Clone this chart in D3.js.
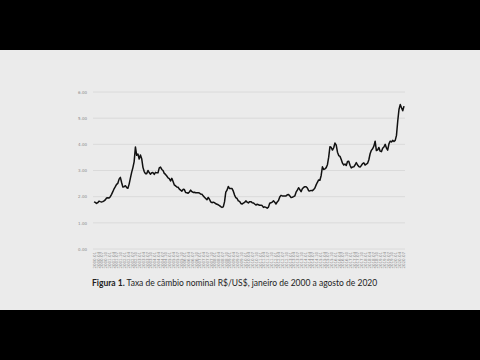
<!DOCTYPE html>
<html>
<head>
<meta charset="utf-8">
<script src="https://cdn.jsdelivr.net/npm/d3@7"></script>
<style>
  body { margin: 0; background: #000; }
  svg { display: block; }
</style>
</head>
<body>
<svg id="chart" width="480" height="360"></svg>
<script>
// taxa de cambio mensal R$/US$, jan/2000 a ago/2020
var startYear = 2000;
var rates = [
  1.80,1.78,1.74,1.77,1.83,1.81,1.80,1.81,1.84,1.88,1.95,1.96,
  1.95,2.00,2.09,2.19,2.30,2.38,2.47,2.51,2.67,2.74,2.54,2.37,
  2.38,2.42,2.35,2.32,2.48,2.71,2.93,3.11,3.34,3.90,3.58,3.63,
  3.44,3.59,3.45,3.12,2.96,2.88,2.88,3.00,2.92,2.86,2.91,2.92,
  2.85,2.93,2.91,2.91,3.10,3.13,3.04,3.00,2.89,2.85,2.79,2.72,
  2.69,2.60,2.70,2.58,2.45,2.41,2.37,2.36,2.29,2.25,2.21,2.28,
  2.27,2.16,2.15,2.13,2.18,2.25,2.19,2.16,2.17,2.15,2.15,2.15,
  2.14,2.10,2.09,2.03,1.98,1.93,1.88,1.97,1.90,1.80,1.77,1.79,
  1.77,1.73,1.71,1.69,1.66,1.62,1.59,1.61,1.80,2.17,2.25,2.39,
  2.31,2.31,2.31,2.21,2.06,1.96,1.93,1.84,1.82,1.74,1.72,1.75,
  1.78,1.84,1.79,1.76,1.81,1.81,1.77,1.76,1.72,1.68,1.71,1.69,
  1.67,1.67,1.66,1.59,1.61,1.59,1.56,1.60,1.75,1.77,1.79,1.84,
  1.79,1.72,1.80,1.85,1.99,2.05,2.03,2.03,2.03,2.03,2.07,2.08,
  2.03,1.97,1.98,2.00,2.03,2.17,2.25,2.34,2.27,2.19,2.30,2.35,
  2.38,2.38,2.33,2.23,2.22,2.24,2.23,2.27,2.33,2.45,2.55,2.64,
  2.63,2.81,3.14,3.04,3.06,3.11,3.22,3.51,3.91,3.88,3.78,3.87,
  4.05,3.97,3.70,3.57,3.54,3.42,3.28,3.21,3.25,3.19,3.34,3.35,
  3.20,3.10,3.13,3.14,3.21,3.30,3.21,3.15,3.13,3.19,3.26,3.29,
  3.21,3.24,3.28,3.41,3.64,3.77,3.83,3.93,4.12,3.76,3.79,3.88,
  3.74,3.72,3.85,3.90,4.00,3.86,3.78,4.02,4.12,4.09,4.15,4.11,
  4.15,4.34,4.88,5.33,5.52,5.40,5.28,5.46
];
var yTicks = [0, 1, 2, 3, 4, 5, 6];
var labelStep = 3; // um rotulo a cada trimestre

var months = rates.map(function (d, i) {
  var yr = startYear + Math.floor(i / 12);
  var m = (i % 12) + 1;
  return yr + "." + (m < 10 ? "0" + m : m);
});

var svg = d3.select("#chart");

// fundo cinza entre as faixas pretas
svg.append("rect")
  .attr("x", 0).attr("y", 50)
  .attr("width", 480).attr("height", 260)
  .attr("fill", "#ebebeb");

var plotLeft = 93, plotRight = 405, plotTop = 92, plotBottom = 249;

var x = d3.scalePoint()
  .domain(months)
  .range([plotLeft + 1, plotRight - 1]);

var y = d3.scaleLinear()
  .domain([0, 6])
  .range([plotBottom, plotTop]);

// grade horizontal
svg.append("g")
  .selectAll("line")
  .data(yTicks)
  .enter()
  .append("line")
  .attr("x1", plotLeft).attr("x2", plotRight)
  .attr("y1", d => y(d)).attr("y2", d => y(d))
  .attr("stroke", "#d6d6d6")
  .attr("stroke-width", 0.8);

// eixo y
var yAxis = svg.append("g")
  .attr("transform", "translate(" + (plotLeft - 3) + ",0)")
  .call(d3.axisLeft(y).tickValues(yTicks).tickFormat(d3.format(".2f")).tickSize(0));
yAxis.select(".domain").remove();
yAxis.selectAll("text")
  .attr("fill", "#8a8a8a")
  .attr("font-family", "DejaVu Sans, sans-serif")
  .attr("font-size", 4);

// eixo x, rotulos verticais
var xAxis = svg.append("g")
  .attr("transform", "translate(0," + (plotBottom + 2) + ")")
  .call(d3.axisBottom(x)
    .tickValues(months.filter((d, i) => i % labelStep === 0))
    .tickSize(0));
xAxis.select(".domain").remove();
xAxis.selectAll("text")
  .attr("fill", "#8a8a8a")
  .attr("font-family", "DejaVu Sans, sans-serif")
  .attr("font-size", 4)
  .attr("transform", "rotate(-90)")
  .attr("text-anchor", "end")
  .attr("x", -1)
  .attr("y", 0)
  .attr("dy", "0.35em");

// serie
var line = d3.line()
  .x((d, i) => x(months[i]))
  .y(d => y(d));

svg.append("path")
  .datum(rates)
  .attr("d", line)
  .attr("fill", "none")
  .attr("stroke", "#111")
  .attr("stroke-width", 1.5)
  .attr("stroke-linejoin", "round");

// legenda da figura
var cap = svg.append("text")
  .attr("x", 92)
  .attr("y", 286)
  .attr("font-family", "Lato, sans-serif")
  .attr("font-size", 8.5)
  .attr("fill", "#222");
cap.append("tspan").attr("font-weight", "bold").text("Figura 1.");
cap.append("tspan").text(" Taxa de câmbio nominal R$/US$, janeiro de 2000 a agosto de 2020");
</script>
</body>
</html>
